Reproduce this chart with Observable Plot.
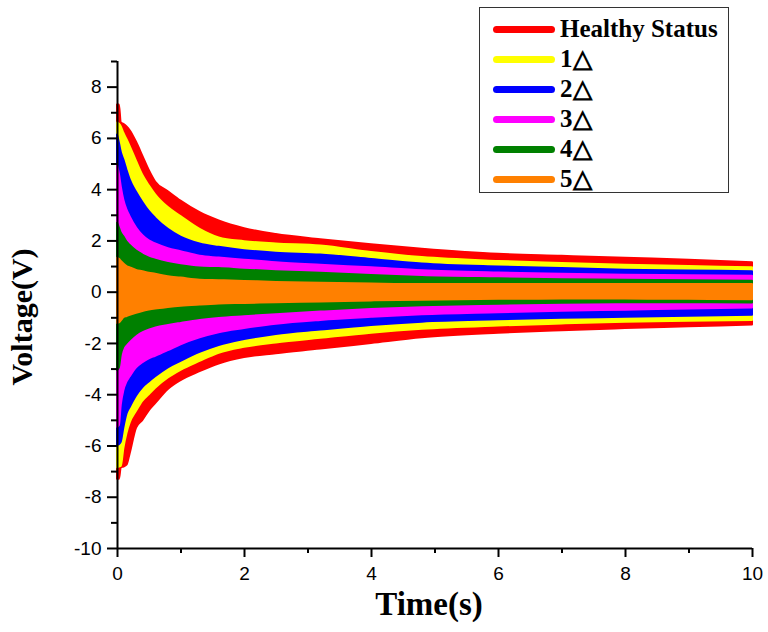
<!DOCTYPE html>
<html>
<head>
<meta charset="utf-8">
<script src="https://cdn.jsdelivr.net/npm/d3@7"></script>
<script src="https://cdn.jsdelivr.net/npm/@observablehq/plot@0.6"></script>
<style>
  html, body { margin: 0; padding: 0; background: #fff; }
  #wrap { position: relative; width: 768px; height: 632px; overflow: hidden; }
  #legend {
    position: absolute; left: 479px; top: 7px; width: 250px; height: 186px;
    border: 1.5px solid #333; background: #fff; box-sizing: border-box;
  }
  .row { position: absolute; left: 0; height: 30px; display: flex; align-items: center; }
  .sw { width: 62px; height: 7px; border-radius: 4px; margin-left: 13px; }
  .lab { margin-left: 5px; font-family: "Liberation Serif", "Times New Roman", serif; font-weight: bold; font-size: 25px; color: #000; line-height: 30px; }
</style>
</head>
<body>
<div id="wrap"><div id="chart"></div><div id="legend"></div></div>
<script>
// Time grid (s)
const times = [0, 0.03, 0.06, 0.1, 0.15, 0.2, 0.3, 0.4, 0.5, 0.6, 0.8, 1.0, 1.3, 1.6, 2.0, 2.5, 3.2, 4.0, 4.8, 6.0, 7.0, 8.0, 9.0, 10.0];

// Series names and colours
const seriesNames = ["Healthy Status", "1△", "2△", "3△", "4△", "5△"];
const seriesColors = ["#ff0000", "#ffff00", "#0000ff", "#ff00ff", "#008000", "#ff8000"];

// Upper envelope (V)
const healthyHi = [7.3, 7.3, 6.6, 6.55, 6.45, 6.3, 5.85, 5.3, 4.75, 4.3, 3.92, 3.55, 3.1, 2.78, 2.48, 2.25, 2.05, 1.85, 1.68, 1.48, 1.4, 1.32, 1.25, 1.15];
const d1Hi = [6.6, 6.55, 6.45, 6.2, 5.95, 5.68, 5.1, 4.55, 4.15, 3.8, 3.3, 2.95, 2.45, 2.12, 1.97, 1.88, 1.8, 1.55, 1.35, 1.2, 1.12, 1.05, 1.0, 0.95];
const d2Hi = [6.13, 5.81, 5.45, 5.16, 4.75, 4.38, 3.9, 3.5, 3.15, 2.88, 2.45, 2.15, 1.88, 1.75, 1.62, 1.52, 1.45, 1.28, 1.1, 0.98, 0.92, 0.86, 0.83, 0.8];
const d3Hi = [4.93, 4.6, 4.1, 3.59, 3.2, 2.94, 2.5, 2.2, 2.0, 1.88, 1.7, 1.58, 1.4, 1.33, 1.25, 1.15, 1.05, 0.95, 0.84, 0.75, 0.7, 0.66, 0.64, 0.62];
const d4Hi = [2.69, 2.5, 2.3, 2.16, 1.95, 1.82, 1.6, 1.45, 1.33, 1.25, 1.12, 1.03, 0.94, 0.92, 0.86, 0.8, 0.74, 0.65, 0.57, 0.52, 0.49, 0.47, 0.45, 0.43];
const d5Hi = [1.32, 1.28, 1.2, 1.1, 1.0, 0.95, 0.85, 0.8, 0.74, 0.7, 0.6, 0.55, 0.47, 0.45, 0.42, 0.38, 0.35, 0.32, 0.3, 0.3, 0.3, 0.3, 0.3, 0.3];

// Lower envelope (V)
const healthyLo = [-7.3, -7.3, -6.85, -6.82, -6.75, -6.3, -5.3, -5.0, -4.63, -4.35, -3.8, -3.45, -3.1, -2.8, -2.55, -2.4, -2.22, -2.0, -1.78, -1.6, -1.5, -1.42, -1.35, -1.28];
const d1Lo = [-6.85, -6.82, -6.8, -6.1, -5.5, -5.1, -4.65, -4.25, -4.0, -3.75, -3.35, -3.05, -2.7, -2.38, -2.15, -1.98, -1.8, -1.6, -1.45, -1.32, -1.24, -1.17, -1.13, -1.1];
const d2Lo = [-5.98, -5.95, -5.85, -5.3, -4.75, -4.5, -4.05, -3.72, -3.5, -3.3, -2.95, -2.7, -2.35, -2.08, -1.85, -1.65, -1.48, -1.3, -1.17, -1.08, -1.02, -0.98, -0.94, -0.9];
const d3Lo = [-5.27, -5.2, -4.4, -3.85, -3.5, -3.3, -2.95, -2.75, -2.6, -2.5, -2.28, -2.05, -1.78, -1.58, -1.42, -1.25, -1.1, -0.98, -0.88, -0.8, -0.74, -0.7, -0.66, -0.62];
const d4Lo = [-3.05, -2.95, -2.45, -2.15, -2.0, -1.87, -1.65, -1.5, -1.4, -1.32, -1.22, -1.14, -1.03, -0.95, -0.88, -0.8, -0.7, -0.6, -0.53, -0.47, -0.43, -0.41, -0.41, -0.42];
const d5Lo = [-1.22, -1.2, -1.12, -1.0, -0.95, -0.9, -0.82, -0.75, -0.7, -0.66, -0.6, -0.55, -0.5, -0.46, -0.44, -0.41, -0.38, -0.34, -0.31, -0.28, -0.27, -0.27, -0.28, -0.3];

// Axis ticks
const xMajor = [0, 2, 4, 6, 8, 10];
const xMinor = [1, 3, 5, 7, 9];
const yMajor = [-10, -8, -6, -4, -2, 0, 2, 4, 6, 8];
const yMinor = [-9, -7, -5, -3, -1, 1, 3, 5, 7, 9];

const his = [healthyHi, d1Hi, d2Hi, d3Hi, d4Hi, d5Hi];
const los = [healthyLo, d1Lo, d2Lo, d3Lo, d4Lo, d5Lo];

const serif = "'Liberation Serif', 'Times New Roman', serif";
const sans = "'Liberation Sans', Arial, sans-serif";

const areaMarks = seriesNames.map((name, k) => {
  const rows = times.map((t, i) => ({t, hi: his[k][i], lo: los[k][i]}));
  return Plot.areaY(rows, {
    x: "t", y1: "lo", y2: "hi", curve: "monotone-x",
    fill: seriesColors[k], stroke: seriesColors[k], strokeWidth: 2, strokeLinejoin: "round"
  });
});

const chart = Plot.plot({
  width: 768,
  height: 632,
  marginLeft: 117,
  marginRight: 16,
  marginTop: 61,
  marginBottom: 84,
  style: {fontFamily: sans, fontSize: "19px", color: "#000", background: "#fff", overflow: "visible"},
  x: {domain: [0, 10]},
  y: {domain: [-10, 9]},
  marks: [
    ...areaMarks,
    Plot.ruleX([0], {stroke: "#000", strokeWidth: 2}),
    Plot.ruleY([-10], {stroke: "#000", strokeWidth: 2}),
    Plot.axisY({ticks: yMajor, tickSize: 10, tickPadding: 6, strokeWidth: 2, fontSize: 19, label: null, tickFormat: d => String(d)}),
    Plot.axisY({ticks: yMinor, tickSize: 6, strokeWidth: 2, text: null, label: null}),
    Plot.axisX({ticks: xMajor, tickSize: 9, tickPadding: 9, strokeWidth: 2, fontSize: 19, label: null, tickFormat: d => String(d)}),
    Plot.axisX({ticks: xMinor, tickSize: 5, strokeWidth: 2, text: null, label: null}),
    Plot.text(["Time(s)"], {frameAnchor: "bottom", dx: -6, dy: 66, fontSize: 33, fontWeight: "bold", fontFamily: serif, fill: "#000"}),
    Plot.text(["Voltage(V)"], {frameAnchor: "left", textAnchor: "middle", rotate: -90, dx: -95, dy: 12, fontSize: 30, fontWeight: "bold", fontFamily: serif, fill: "#000"})
  ]
});
document.getElementById("chart").appendChild(chart);

// Legend
const legend = document.getElementById("legend");
seriesNames.forEach((name, k) => {
  const row = document.createElement("div");
  row.className = "row";
  row.style.top = (6 + 30 * k) + "px";
  const sw = document.createElement("div");
  sw.className = "sw";
  sw.style.background = seriesColors[k];
  const lab = document.createElement("span");
  lab.className = "lab";
  lab.textContent = name;
  row.appendChild(sw);
  row.appendChild(lab);
  legend.appendChild(row);
});
</script>
</body>
</html>
